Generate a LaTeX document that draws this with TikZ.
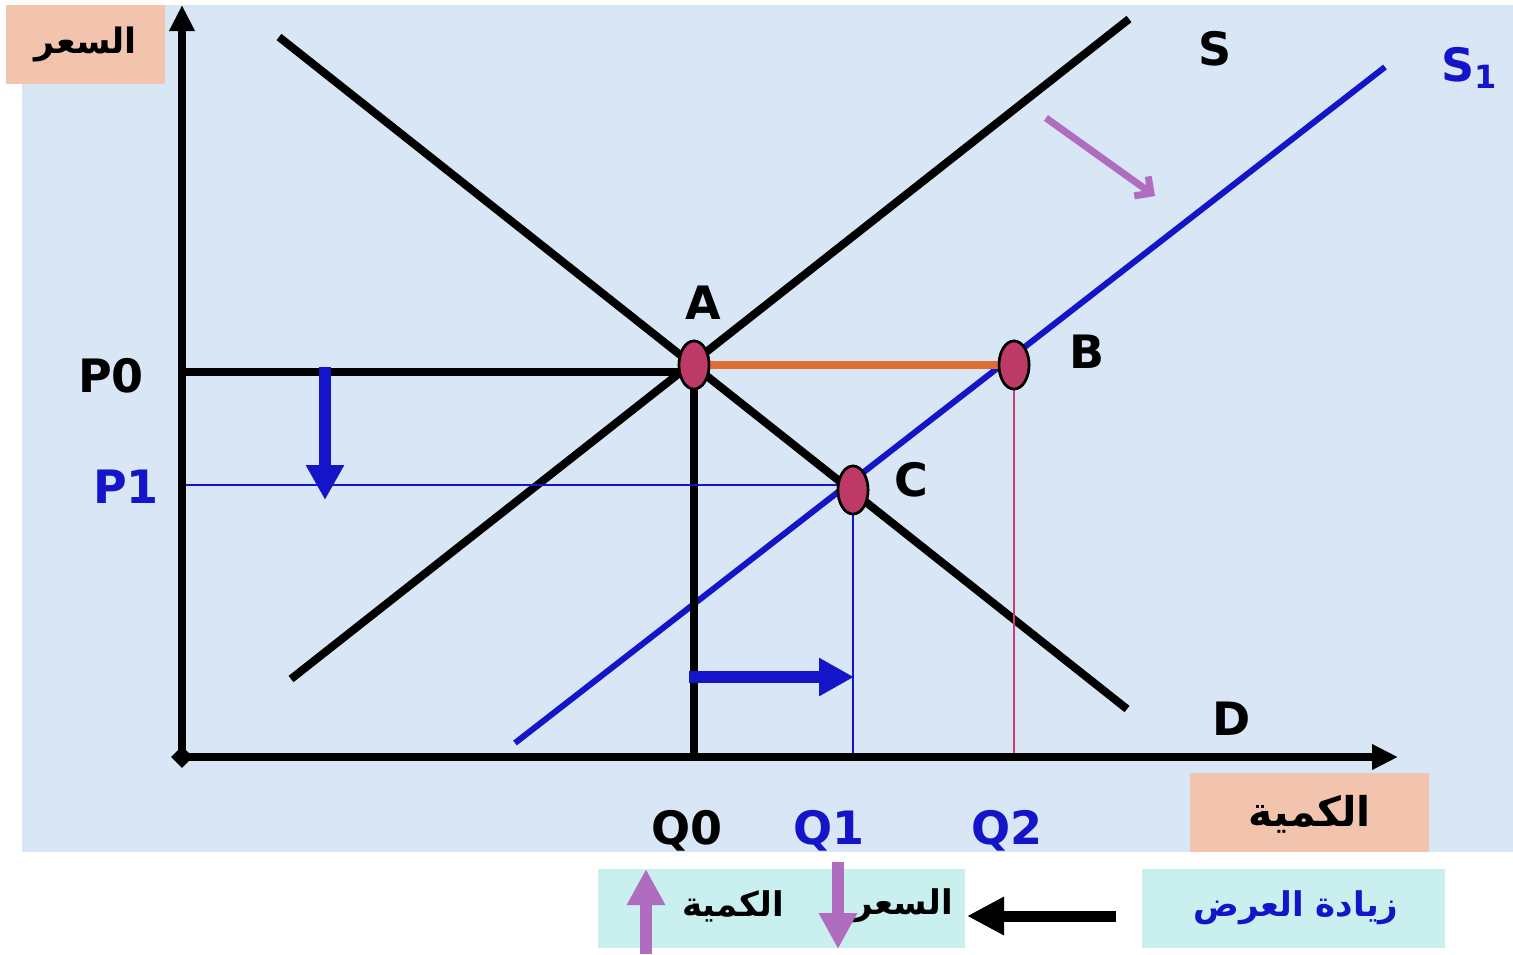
\documentclass[tikz,border=0pt]{standalone}
\usepackage{fontspec}
\setmainfont{DejaVu Sans}
\newfontfamily\arabicfont[Script=Arabic]{DejaVu Sans}
\TeXXeTstate=1
\usetikzlibrary{arrows.meta,shapes.geometric}
\definecolor{bgblue}{RGB}{216,230,246}
\definecolor{salmon}{RGB}{242,196,174}
\definecolor{cyanbox}{RGB}{201,239,239}
\definecolor{dblue}{RGB}{20,20,200}
\definecolor{pointred}{RGB}{190,58,102}
\definecolor{orangeline}{RGB}{224,110,52}
\definecolor{purplearrow}{RGB}{176,108,190}
\definecolor{qtwored}{RGB}{200,60,110}
\begin{document}
\begin{tikzpicture}[x=1pt,y=-1pt,
  blackline/.style={line width=8pt,black},
  axisline/.style={line width=7.5pt,black,-{Triangle[length=26pt,width=24pt]}},
  thinblue/.style={line width=1.5pt,dblue},
  eqpt/.style={ellipse,draw=black,fill=pointred,line width=2.6pt,minimum width=30pt,minimum height=48pt,inner sep=0pt},
  lab/.style={font=\bfseries\fontsize{46}{52}\selectfont,inner sep=0pt},
  arlab/.style={font=\arabicfont\bfseries\fontsize{34}{40}\selectfont,inner sep=0pt},
  bluearrow/.style={line width=12pt,dblue,-{Triangle[length=35pt,width=36pt]}},
  purplebig/.style={line width=12pt,purplearrow,-{Triangle[length=36pt,width=36pt]}}
]
\useasboundingbox (0,0) rectangle (1513,954);
\fill[white] (0,0) rectangle (1513,954);
% background
\fill[bgblue] (22,5) rectangle (1513,852);
% boxes
\node[fill=salmon,minimum width=159pt,minimum height=79pt,inner sep=0pt,anchor=north west] (pricebox) at (6,5) {};
\node[arlab,font=\arabicfont\bfseries\fontsize{35}{40}\selectfont] (pricetxt) at (pricebox.center) {\beginR السعر\endR};
\node[fill=salmon,minimum width=239pt,minimum height=79pt,inner sep=0pt,anchor=north west] (qtybox) at (1190,773) {};
\node[arlab,font=\arabicfont\bfseries\fontsize{41}{46}\selectfont] (qtytxt) at ([yshift=-2pt]qtybox.center) {\beginR الكمية\endR};
\node[fill=cyanbox,minimum width=367pt,minimum height=79pt,inner sep=0pt,anchor=north west] (resbox) at (598,869) {};
\node[fill=cyanbox,minimum width=303pt,minimum height=79pt,inner sep=0pt,anchor=north west] (incbox) at (1142,869) {};
\node[arlab,text=dblue] (inctxt) at (1296,908) {\beginR زيادة العرض\endR};
\node[arlab] (resq) at (733,906) {\beginR الكمية\endR};
\node[arlab] (resp) at (903,906) {\beginR السعر\endR};
% coordinates
\coordinate (O) at (182,757);
\coordinate (ytop) at (182,5);
\coordinate (xend) at (1398,757);
\coordinate (d1) at (279,37);
\coordinate (d2) at (1127,709);
\coordinate (s1) at (291,679);
\coordinate (s2) at (1129,19);
\coordinate (t1) at (515,743);
\coordinate (t2) at (1385,67);
\coordinate (p0l) at (182,372);
\coordinate (p0r) at (694,372);
\coordinate (p1l) at (182,485);
\coordinate (p1r) at (845,485);
\coordinate (q0b) at (694,757);
\coordinate (q1b) at (853,757);
\coordinate (q2b) at (1014,757);
% curves
\draw[blackline] (d1) -- (d2);
\draw[blackline] (s1) -- (s2);
\draw[line width=6pt,dblue] (t1) -- (t2);
% equilibrium points
\node[eqpt] (A) at (694,365) {};
\node[eqpt] (B) at (1014,365) {};
\node[eqpt] (C) at (853,490) {};
% guides
\draw[blackline] (p0l) -- (p0r);
\draw[blackline] (A.center) -- (q0b);
\draw[line width=8pt,orangeline] (A.center) -- (B.center);
\draw[thinblue] (p1l) -- (p1r);
\draw[thinblue] (C.center) -- (q1b);
\draw[line width=1.5pt,qtwored] (B.center) -- (q2b);
% redraw points on top
\node[eqpt] at (A) {};
\node[eqpt] at (B) {};
\node[eqpt] at (C) {};
% axes
\draw[axisline] (O) -- (ytop);
\draw[axisline] (O) -- (xend);
\node[diamond,fill=black,minimum size=22pt,inner sep=0pt] (Od) at (O) {};
% arrows
\coordinate (da1) at (325,367);
\coordinate (da2) at (325,500);
\draw[bluearrow] (da1) -- (da2);
\coordinate (ra1) at (689,677);
\coordinate (ra2) at (854,677);
\draw[bluearrow] (ra1) -- (ra2);
\coordinate (pa1) at (1046,118);
\coordinate (pa2) at (1155,196);
\draw[line width=7pt,purplearrow,-{Straight Barb[length=12pt,width=24pt]}] (pa1) -- (pa2);
\coordinate (ba1) at (1116,916);
\coordinate (ba2) at (967,916);
\draw[line width=11pt,black,-{Triangle[length=37pt,width=36pt]}] (ba1) -- (ba2);
\coordinate (ua1) at (646,954);
\coordinate (ua2) at (646,869);
\draw[purplebig] (ua1) -- (ua2);
\coordinate (dn1) at (838,862);
\coordinate (dn2) at (838,949);
\draw[purplebig] (dn1) -- (dn2);
% labels
\node[lab] (Slab) at (1215,49) {S};
\node[lab,text=dblue] (S1lab) at (1469,68) {S\raisebox{-0.15em}{\fontsize{32}{36}\selectfont 1}};
\node[lab] (Alab) at (703,303) {A};
\node[lab] (Blab) at (1087,352) {B};
\node[lab] (Clab) at (911,480) {C};
\node[lab] (Dlab) at (1232,719) {D};
\node[lab] (P0lab) at (111,376) {P0};
\node[lab,text=dblue] (P1lab) at (126,487) {P1};
\node[lab] (Q0lab) at (687,831) {Q0};
\node[lab,text=dblue] (Q1lab) at (829,831) {Q1};
\node[lab,text=dblue] (Q2lab) at (1007,831) {Q2};
\end{tikzpicture}
\end{document}
